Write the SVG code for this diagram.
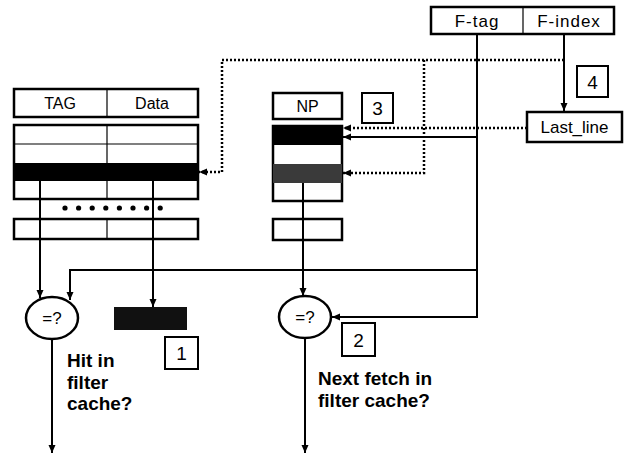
<svg xmlns="http://www.w3.org/2000/svg" width="629" height="456" viewBox="0 0 629 456">
<style>
.box{fill:#fff;stroke:#000;stroke-width:2.5}
.thin{stroke:#000;stroke-width:1.2;fill:none}
.nbox{fill:#fff;stroke:#000;stroke-width:2}
.t{font-family:"Liberation Sans",Arial,sans-serif;fill:#000;text-anchor:middle}
.lbl{font-family:"Liberation Sans",Arial,sans-serif;fill:#000;font-weight:bold;font-size:19px}
.ln{stroke:#000;stroke-width:2;fill:none}
.dot{stroke:#000;stroke-width:2.5;fill:none;stroke-dasharray:2 2}
</style>
<defs>
<marker id="ah" viewBox="0 0 8 8" refX="8" refY="4" markerWidth="8" markerHeight="8" markerUnits="userSpaceOnUse" orient="auto">
<path d="M0,0.5 L8,4 L0,7.5 Z" fill="#000"/>
</marker>
</defs>

<g id="tag-data-header">
<rect class="box" x="14" y="89" width="184" height="28"/>
<line class="thin" x1="107" y1="89" x2="107" y2="117"/>
<text class="t" x="60" y="109" font-size="16">TAG</text>
<text class="t" x="152" y="109" font-size="16">Data</text>
</g>

<g id="tag-data-table">
<rect class="box" x="14" y="125" width="184" height="74"/>
<rect x="14" y="163" width="184" height="18" fill="#000"/>
<line class="thin" x1="14" y1="144" x2="198" y2="144"/>
<line class="thin" x1="107" y1="125" x2="107" y2="199"/>
<g fill="#000">
<circle cx="65" cy="208" r="2.6"/><circle cx="78.6" cy="208" r="2.6"/><circle cx="92.2" cy="208" r="2.6"/><circle cx="105.8" cy="208" r="2.6"/><circle cx="119.4" cy="208" r="2.6"/><circle cx="133" cy="208" r="2.6"/><circle cx="146.6" cy="208" r="2.6"/><circle cx="160.2" cy="208" r="2.6"/>
</g>
<rect class="box" x="14" y="219" width="184" height="20"/>
<line class="thin" x1="107" y1="219" x2="107" y2="239"/>
</g>

<g id="np-header">
<rect class="box" x="273" y="93" width="69" height="26"/>
<text class="t" x="307.5" y="112" font-size="16">NP</text>
</g>

<g id="np-table">
<rect class="box" x="273" y="126" width="69" height="75"/>
<rect x="273" y="126" width="69" height="19" fill="#000"/>
<rect x="273" y="164" width="69" height="19" fill="#3a3a3a"/>
<rect class="box" x="273" y="219" width="69" height="21"/>
</g>

<g id="f-register">
<rect class="box" x="431" y="7" width="183" height="27"/>
<line class="thin" x1="523" y1="7" x2="523" y2="34"/>
<text class="t" x="477" y="27" font-size="17" letter-spacing="1">F-tag</text>
<text class="t" x="569" y="27" font-size="17" letter-spacing="1">F-index</text>
</g>

<g id="last-line">
<rect class="box" x="527" y="112" width="95" height="30"/>
<text class="t" x="574.5" y="133" font-size="17">Last_line</text>
</g>

<g id="cmp-hit">
<ellipse class="box" cx="52" cy="318" rx="26" ry="21"/>
<text class="t" x="52" y="324" font-size="17">=?</text>
</g>

<g id="cmp-next">
<ellipse class="box" cx="305" cy="317" rx="26" ry="21"/>
<text class="t" x="305" y="323" font-size="17">=?</text>
</g>

<g id="data-out">
<rect x="114" y="307" width="73" height="23" fill="#111"/>
</g>

<g id="num1"><rect class="nbox" x="165" y="337" width="33" height="32"/><text class="t" x="181.5" y="360" font-size="19">1</text></g>
<g id="num2"><rect class="nbox" x="342" y="323" width="33" height="33"/><text class="t" x="358.5" y="346.5" font-size="19">2</text></g>
<g id="num3"><rect class="nbox" x="362" y="93" width="31" height="30"/><text class="t" x="377.5" y="115" font-size="19">3</text></g>
<g id="num4"><rect class="nbox" x="577" y="66" width="31" height="31"/><text class="t" x="592.5" y="88.5" font-size="19">4</text></g>

<g id="labels">
<text class="lbl" x="67" y="367">Hit in</text>
<text class="lbl" x="67" y="388.5">filter</text>
<text class="lbl" x="67" y="410">cache?</text>
<text class="lbl" x="318" y="385">Next fetch in</text>
<text class="lbl" x="318" y="407">filter cache?</text>
</g>

<g id="connectors">
<line class="ln" x1="40" y1="181" x2="40" y2="298" marker-end="url(#ah)"/>
<line class="ln" x1="153" y1="181" x2="153" y2="307" marker-end="url(#ah)"/>
<polyline class="ln" points="477,34 477,317 332,317" marker-end="url(#ah)"/>
<polyline class="ln" points="477,270 70,270 70,300" marker-end="url(#ah)"/>
<line class="ln" x1="477" y1="137" x2="343" y2="137" marker-end="url(#ah)"/>
<line class="ln" x1="303" y1="183" x2="303" y2="296" marker-end="url(#ah)"/>
<line class="ln" x1="564" y1="34" x2="564" y2="111" marker-end="url(#ah)"/>
<polyline class="dot" points="564,60 222,60 222,172 199,172" marker-end="url(#ah)"/>
<polyline class="dot" points="424,60 424,173 343,173" marker-end="url(#ah)"/>
<line class="dot" x1="527" y1="128" x2="343" y2="128" marker-end="url(#ah)"/>
<line class="ln" x1="52" y1="339" x2="52" y2="453" marker-end="url(#ah)"/>
<line class="ln" x1="305" y1="338" x2="305" y2="453" marker-end="url(#ah)"/>
</g>
</svg>
